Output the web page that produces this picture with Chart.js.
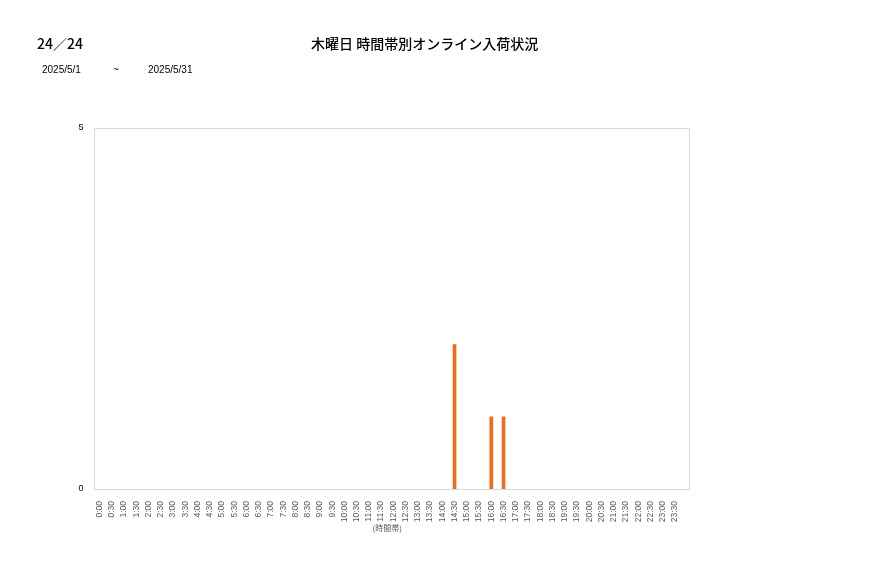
<!DOCTYPE html>
<html>
<head>
<meta charset="utf-8">
<script src="https://cdn.jsdelivr.net/npm/chart.js@4"></script>
<style>
  body { margin: 0; background: #fff; font-family: "Noto Sans CJK JP", "Liberation Sans", sans-serif; }
  #wrap { position: relative; width: 877px; height: 578px; }
  #chart { position: absolute; left: 0; top: 0; }
  .txt { position: absolute; color: #000; white-space: nowrap; }
  #page { left: 37px; top: 33px; font-size: 14px; font-weight: 500; }
  #title { left: 311px; top: 33px; font-size: 14px; font-weight: 500; }
  .date { top: 64px; font-size: 10px; font-family: "Liberation Sans", sans-serif; }
</style>
</head>
<body>
<div id="wrap">
  <canvas id="chart" width="877" height="578"></canvas>
  <div class="txt" id="page">24／24</div>
  <div class="txt" id="title">木曜日 時間帯別オンライン入荷状況</div>
  <div class="txt date" style="left:42px">2025/5/1</div>
  <div class="txt date" style="left:113px">~</div>
  <div class="txt date" style="left:148px">2025/5/31</div>
</div>
<script>
const timeSlots = ['0:00', '0:30', '1:00', '1:30', '2:00', '2:30', '3:00', '3:30', '4:00', '4:30',
  '5:00', '5:30', '6:00', '6:30', '7:00', '7:30', '8:00', '8:30', '9:00', '9:30',
  '10:00', '10:30', '11:00', '11:30', '12:00', '12:30', '13:00', '13:30', '14:00', '14:30',
  '15:00', '15:30', '16:00', '16:30', '17:00', '17:30', '18:00', '18:30', '19:00', '19:30',
  '20:00', '20:30', '21:00', '21:30', '22:00', '22:30', '23:00', '23:30']

const arrivals = [0, 0, 0, 0, 0, 0, 0, 0, 0, 0,
  0, 0, 0, 0, 0, 0, 0, 0, 0, 0,
  0, 0, 0, 0, 0, 0, 0, 0, 0, 2,
  0, 0, 1, 1, 0, 0, 0, 0, 0, 0,
  0, 0, 0, 0, 0, 0, 0, 0]

const yTicks = [0, 5]

// frame around the plot area (the original frame runs a bit past the last slot)
const frame = {
  id: 'frame',
  afterDatasetsDraw(chart) {
    const a = chart.chartArea
    const ctx = chart.ctx
    ctx.save()
    ctx.strokeStyle = '#d9d9d9'
    ctx.lineWidth = 1
    ctx.strokeRect(Math.round(a.left) + 0.5, Math.round(a.top) + 0.5, Math.round(a.right - a.left) + 7, Math.round(a.bottom - a.top))
    ctx.restore()
  }
}

new Chart(document.getElementById('chart'), {
  type: 'bar',
  data: {
    labels: timeSlots,
    datasets: [{
      label: '入荷',
      data: arrivals.map(v => v || null),
      backgroundColor: '#f26b1d',
      barThickness: 3
    }]
  },
  options: {
    responsive: false,
    animation: false,
    layout: { padding: { left: 0, top: 128, right: 196, bottom: 41 } },
    plugins: { legend: { display: false }, tooltip: { enabled: false } },
    scales: {
      x: {
        grid: { display: false },
        border: { display: false },
        ticks: {
          autoSkip: false, minRotation: 90, maxRotation: 90, padding: 4,
          color: '#595959', font: { size: 8.5, family: 'Liberation Sans' }
        },
        title: { display: true, text: '(時間帯)', color: '#595959', font: { size: 8, family: 'Noto Sans CJK JP' } },
        afterFit(scale) { scale.height = 48 }
      },
      y: {
        min: 0, max: 5,
        grid: { display: false },
        border: { display: false },
        afterBuildTicks(scale) { scale.ticks = yTicks.map(v => ({ value: v })) },
        ticks: { padding: 2, color: '#000', font: { size: 9, family: 'Liberation Sans' } },
        afterFit(scale) { scale.width = 93.5 }
      }
    }
  },
  plugins: [frame]
})
</script>
</body>
</html>
